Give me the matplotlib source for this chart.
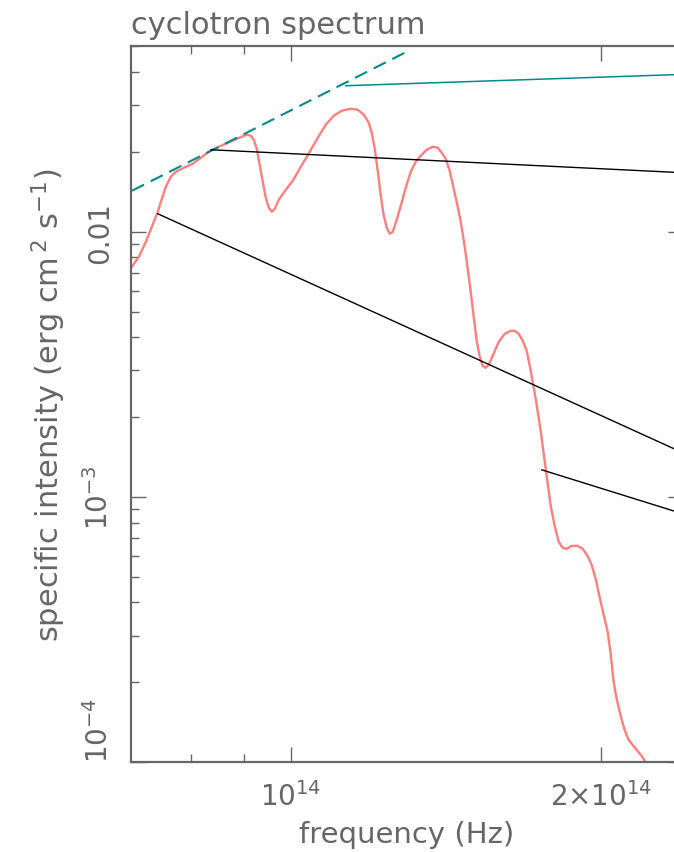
import numpy as np
import matplotlib
matplotlib.use("Agg")
import matplotlib.pyplot as plt
from matplotlib.ticker import FixedLocator, NullFormatter, LogLocator

# spectrum: frequency in units of 1e14 Hz, intensity in erg cm^2 s^-1
freq = [0.7014, 0.7124, 0.7236, 0.7333, 0.7432, 0.7499, 0.7566, 0.7651, 0.7737, 0.7876,
        0.8036, 0.8181, 0.8328, 0.8478, 0.8650, 0.8825, 0.8964, 0.9065, 0.9146, 0.9208,
        0.9269, 0.9332, 0.9394, 0.9457, 0.9521, 0.9585, 0.9649, 0.9736, 0.9889, 1.0045,
        1.0226, 1.0433, 1.0621, 1.0812, 1.1007, 1.1205, 1.1432, 1.1612, 1.1769, 1.1901,
        1.1981, 1.2061, 1.2142, 1.2224, 1.2306, 1.2389, 1.2472, 1.2556, 1.2668, 1.2782,
        1.2925, 1.3070, 1.3217, 1.3365, 1.3545, 1.3728, 1.3882, 1.4006, 1.4132, 1.4258,
        1.4386, 1.4515, 1.4613, 1.4744, 1.4843, 1.4942, 1.5043, 1.5144, 1.5246, 1.5348,
        1.5451, 1.5555, 1.5694, 1.5906, 1.6120, 1.6338, 1.6484, 1.6632, 1.6781, 1.6932,
        1.7084, 1.7275, 1.7469, 1.7665, 1.7863, 1.8023, 1.8185, 1.8348, 1.8512, 1.8720,
        1.8972, 1.9185, 1.9400, 1.9574, 1.9750, 1.9971, 2.0286, 2.0422, 2.0559, 2.0697,
        2.0883, 2.1070, 2.1259, 2.1450, 2.1690, 2.1885, 2.2081]
intensity = [7.378e-3, 8.048e-3, 9.168e-3, 1.044e-2, 1.190e-2, 1.332e-2, 1.478e-2, 1.613e-2, 1.684e-2, 1.744e-2,
             1.806e-2, 1.902e-2, 2.004e-2, 2.075e-2, 2.148e-2, 2.224e-2, 2.283e-2, 2.323e-2, 2.303e-2, 2.224e-2,
             2.057e-2, 1.774e-2, 1.544e-2, 1.344e-2, 1.232e-2, 1.190e-2, 1.221e-2, 1.321e-2, 1.440e-2, 1.558e-2,
             1.759e-2, 2.004e-2, 2.263e-2, 2.534e-2, 2.740e-2, 2.862e-2, 2.912e-2, 2.887e-2, 2.764e-2, 2.578e-2,
             2.364e-2, 2.057e-2, 1.699e-2, 1.367e-2, 1.149e-2, 1.035e-2, 9.83e-3, 1.000e-2, 1.110e-2, 1.253e-2,
             1.466e-2, 1.684e-2, 1.837e-2, 1.936e-2, 2.039e-2, 2.093e-2, 2.075e-2, 1.987e-2, 1.886e-2, 1.699e-2,
             1.453e-2, 1.243e-2, 1.091e-2, 8.778e-3, 7.251e-3, 5.937e-3, 4.778e-3, 3.879e-3, 3.375e-3, 3.121e-3,
             3.068e-3, 3.149e-3, 3.405e-3, 3.845e-3, 4.122e-3, 4.231e-3, 4.231e-3, 4.122e-3, 3.879e-3, 3.556e-3,
             2.989e-3, 2.343e-3, 1.774e-3, 1.276e-3, 9.248e-4, 7.775e-4, 6.765e-4, 6.421e-4, 6.366e-4, 6.534e-4,
             6.534e-4, 6.366e-4, 5.989e-4, 5.539e-4, 4.905e-4, 4.016e-4, 3.094e-4, 2.556e-4, 2.004e-4, 1.729e-4,
             1.491e-4, 1.320e-4, 1.211e-4, 1.159e-4, 1.100e-4, 1.053e-4, 1.000e-4]

# power-law guide lines (end points, same units)
dash_f = [0.7016, 1.3012]
dash_i = [0.01428, 0.04819]
teal_f = [1.1304, 2.4]
teal_i = [0.03555, 0.03923]
upper_f = [0.8365, 2.4]
upper_i = [0.02039, 0.01670]
lower_f = [0.7432, 2.4]
lower_i = [0.01169, 1.466e-3]
bottom_f = [1.7509, 2.4]
bottom_i = [1.265e-3, 8.63e-4]

xticks = [1e14, 2e14]
xticklabels = [r'$10^{14}$', r'$2{\times}10^{14}$']
yticks = [1e-4, 1e-3, 1e-2]
yticklabels = [r'$10^{-4}$', r'$10^{-3}$', '0.01']

gray = '#666666'
plt.rcParams['mathtext.fontset'] = 'dejavusans'

fig = plt.figure(figsize=(6.74, 8.53), dpi=100)
ax = fig.add_axes([131 / 674, 90 / 853, 552 / 674, 716 / 853])

f = np.array(freq) * 1e14
ax.plot(f, intensity, color='#ff7f7f', lw=1.7, solid_joinstyle='round')
ax.plot(np.array(dash_f) * 1e14, dash_i, color='#008b8b', lw=1.5, linestyle=(0, (6.5, 3.5)))
ax.plot(np.array(teal_f) * 1e14, teal_i, color='#008b8b', lw=1.1)
ax.plot(np.array(upper_f) * 1e14, upper_i, color='black', lw=1.0)
ax.plot(np.array(lower_f) * 1e14, lower_i, color='black', lw=1.0)
ax.plot(np.array(bottom_f) * 1e14, bottom_i, color='black', lw=1.0)

ax.set_xscale('log')
ax.set_yscale('log')
ax.set_xlim(7e13, 2.4e14)
ax.set_ylim(1e-4, 0.0502)

ax.xaxis.set_major_locator(FixedLocator(xticks))
ax.set_xticklabels(xticklabels)
ax.xaxis.set_minor_locator(FixedLocator([8e13, 9e13]))
ax.xaxis.set_minor_formatter(NullFormatter())
ax.yaxis.set_major_locator(FixedLocator(yticks))
ax.set_yticklabels(yticklabels, rotation=90, va='center')
ax.get_yticklabels()[0].set_va('bottom')
ax.yaxis.set_minor_locator(LogLocator(base=10, subs=np.arange(2, 10)))
ax.yaxis.set_minor_formatter(NullFormatter())

ax.tick_params(which='both', direction='in', top=True, right=True, color=gray,
               labelcolor=gray, labelsize=20, width=1.0)
ax.tick_params(which='major', length=11)
ax.tick_params(axis='x', which='major', pad=14)
ax.tick_params(axis='y', which='major', pad=12)
ax.tick_params(which='minor', length=6)
for s in ax.spines.values():
    s.set_color(gray)
    s.set_linewidth(1.6)

ax.set_xlabel('frequency (Hz)', color=gray, fontsize=21, labelpad=6)
ax.set_ylabel(r'specific intensity (erg cm$^{\,2}$ s$^{-1}$)', color=gray, fontsize=22, labelpad=12)
ax.set_title('cyclotron spectrum', color=gray, fontsize=22, loc='left', pad=9)

fig.savefig('out.png', dpi=100)
